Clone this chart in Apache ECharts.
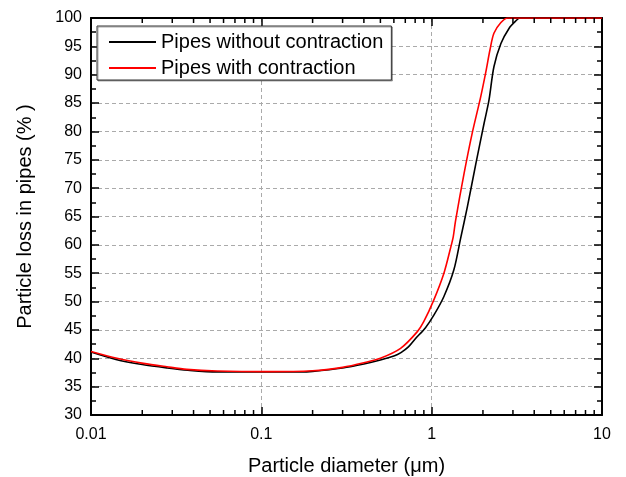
<!DOCTYPE html>
<html>
<head>
<meta charset="utf-8">
<script src="https://cdn.jsdelivr.net/npm/echarts@6/dist/echarts.min.js"></script>
<style>
  html, body { margin: 0; padding: 0; background: #fff; }
  #chart { width: 626px; height: 477px; }
</style>
</head>
<body>
<div id="chart"></div>
<script>
// particle diameter (um) and loss (%)
const noContrDiam = [0.01, 0.014, 0.02, 0.028, 0.037, 0.055, 0.1, 0.17, 0.2, 0.3, 0.4, 0.5, 0.6, 0.66, 0.73, 0.8, 0.92, 1.03, 1.18, 1.35, 1.48, 1.62, 1.82, 2.03, 2.17, 2.32, 2.55, 2.85, 3.1, 3.3, 10];
const noContrLoss = [41.1, 39.8, 38.9, 38.3, 37.9, 37.6, 37.6, 37.6, 37.7, 38.3, 39.0, 39.7, 40.4, 41.0, 42.0, 43.4, 45.4, 47.6, 50.9, 55.6, 61.2, 66.7, 74.4, 81.4, 85.5, 91.4, 95.5, 98.2, 99.4, 100, 100];
const contrDiam = [0.01, 0.0142, 0.0203, 0.0279, 0.0365, 0.055, 0.108, 0.2, 0.3, 0.4, 0.5, 0.657, 0.824, 0.9, 1.03, 1.18, 1.29, 1.34, 1.38, 1.55, 1.73, 1.94, 2.08, 2.2, 2.32, 2.55, 2.8, 10];
const contrLoss = [41.2, 40.0, 39.1, 38.5, 38.05, 37.76, 37.64, 37.8, 38.4, 39.2, 40.0, 41.75, 44.7, 46.5, 50.3, 55.0, 59.4, 61.5, 64.2, 72.6, 79.7, 86.1, 90.5, 94.4, 97.3, 99.2, 100, 100];

const seriesNames = ['Pipes without contraction', 'Pipes with contraction'];
const xMajorTicks = [0.01, 0.1, 1, 10];
const xMinorTicks = [];
xMajorTicks.slice(0, 3).forEach(function (d) {
  for (let k = 2; k <= 9; k++) xMinorTicks.push(+(d * k).toPrecision(3));
});

const font = '"Liberation Sans", Arial, sans-serif';
const zip = (a, b) => a.map((v, i) => [v, b[i]]);

const axisLine = { show: true, lineStyle: { color: '#000', width: 2 } };
const gridLine = { show: true, lineStyle: { color: '#aaa', width: 1, type: [4, 3] } };

let chart = echarts.init(document.getElementById('chart'));
chart.setOption({
  animation: false,
  textStyle: { fontFamily: font, color: '#000' },
  grid: { left: 91, right: 24, top: 18, bottom: 62, outerBoundsMode: 'none' },
  legend: {
    data: seriesNames,
    orient: 'vertical',
    left: 97,
    top: 26,
    padding: [6, 8, 2, 12],
    icon: 'rect',
    itemWidth: 47,
    itemHeight: 2,
    itemGap: 6,
    borderColor: '#333',
    borderWidth: 1,
    backgroundColor: '#fff',
    shadowColor: 'rgba(0,0,0,0.35)',
    shadowOffsetX: 1,
    shadowOffsetY: 1,
    textStyle: { fontSize: 20, color: '#000', fontFamily: font }
  },
  xAxis: [
    {
      type: 'log',
      logBase: 10,
      min: 0.01,
      max: 10,
      name: 'Particle diameter (\u03bcm)',
      nameLocation: 'middle',
      nameGap: 41,
      nameTextStyle: { fontSize: 20, color: '#000' },
      axisLine: axisLine,
      axisTick: { inside: true, length: 8, lineStyle: { color: '#000', width: 1.5 } },
      axisLabel: { fontSize: 16, color: '#000', margin: 12 },
      splitLine: gridLine
    },
    {
      type: 'log',
      logBase: 10,
      min: 0.01,
      max: 10,
      position: 'top',
      axisLine: axisLine,
      axisTick: { inside: true, length: 8, lineStyle: { color: '#000', width: 1.5 } },
      axisLabel: { show: false },
      splitLine: { show: false }
    }
  ],
  yAxis: [
    {
      type: 'value',
      min: 30,
      max: 100,
      interval: 5,
      name: 'Particle loss in pipes (% )',
      nameLocation: 'middle',
      nameGap: 56,
      nameTextStyle: { fontSize: 20, color: '#000' },
      axisLine: axisLine,
      axisTick: { inside: true, length: 8, lineStyle: { color: '#000', width: 1.5 } },
      minorTick: { show: true, splitNumber: 2, length: 5, lineStyle: { color: '#000', width: 1.5 } },
      axisLabel: { fontSize: 16, color: '#000', margin: 9 },
      splitLine: gridLine
    },
    {
      type: 'value',
      min: 30,
      max: 100,
      interval: 5,
      position: 'right',
      axisLine: axisLine,
      axisTick: { inside: true, length: 8, lineStyle: { color: '#000', width: 1.5 } },
      minorTick: { show: true, splitNumber: 2, length: 5, lineStyle: { color: '#000', width: 1.5 } },
      axisLabel: { show: false },
      splitLine: { show: false }
    }
  ],
  series: [
    {
      name: seriesNames[0],
      type: 'line',
      data: zip(noContrDiam, noContrLoss),
      symbol: 'none',
      smooth: 0.3,
      lineStyle: { color: '#000', width: 1.6 },
      itemStyle: { color: '#000' },
      z: 3
    },
    {
      name: seriesNames[1],
      type: 'line',
      data: zip(contrDiam, contrLoss),
      symbol: 'none',
      smooth: 0.3,
      lineStyle: { color: '#f00', width: 1.6 },
      itemStyle: { color: '#f00' },
      z: 4
    },
    {
      // minor ticks of the log x axis, bottom and top
      type: 'custom',
      silent: true,
      data: xMinorTicks,
      renderItem: function (params, api) {
        let v = api.value(0);
        let b = api.coord([v, 30]);
        let t = api.coord([v, 100]);
        let style = { stroke: '#000', lineWidth: 1.5 };
        return {
          type: 'group',
          children: [
            { type: 'line', shape: { x1: b[0], y1: b[1], x2: b[0], y2: b[1] - 5 }, style: style },
            { type: 'line', shape: { x1: t[0], y1: t[1], x2: t[0], y2: t[1] + 5 }, style: style }
          ]
        };
      },
      encode: { x: 0 },
      z: 5
    }
  ]
});
</script>
</body>
</html>
